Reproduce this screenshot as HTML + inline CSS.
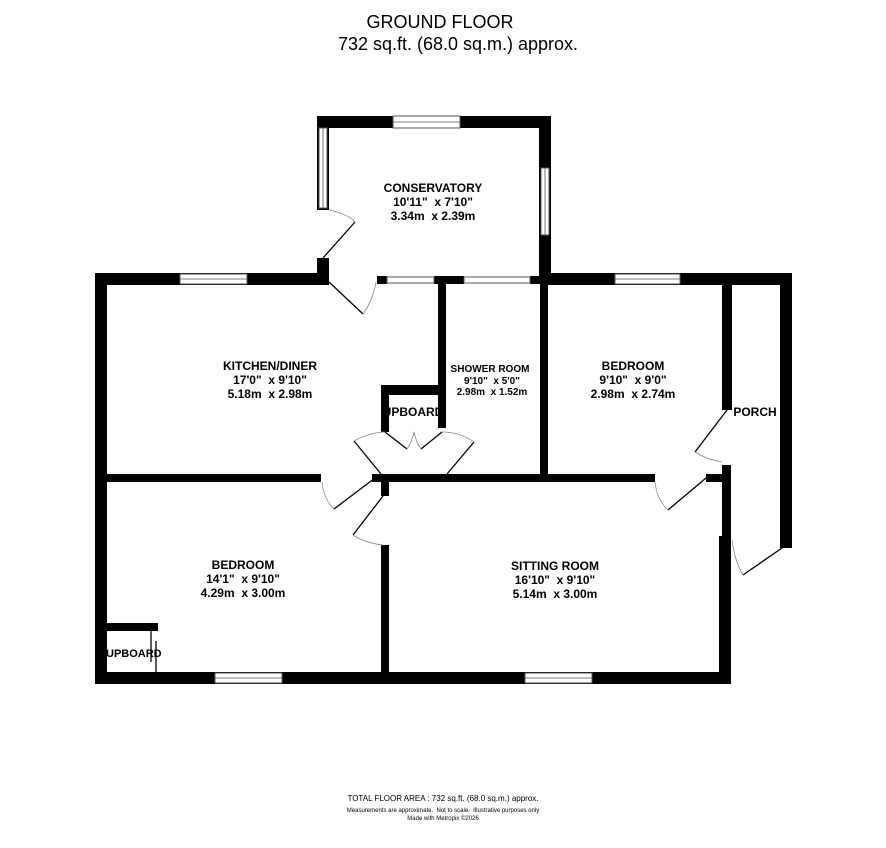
<!DOCTYPE html>
<html><head><meta charset="utf-8"><style>
html,body{margin:0;padding:0;background:#fff;}
svg{display:block;font-family:"Liberation Sans",Arial,sans-serif;}
text{white-space:pre;}
</style></head><body>
<svg width="886" height="848" viewBox="0 0 886 848" xmlns="http://www.w3.org/2000/svg" xml:space="preserve">
<rect width="886" height="848" fill="#fff"/>
<text x="440" y="28" font-size="18" text-anchor="middle">GROUND FLOOR</text>
<text x="458" y="50" font-size="18" text-anchor="middle">732 sq.ft. (68.0 sq.m.) approx.</text>
<g fill="#000">
<rect x="317" y="116" width="234" height="12"/>
<rect x="317" y="116" width="12" height="94"/>
<rect x="539" y="116" width="12" height="160"/>
<rect x="317" y="258" width="12" height="26"/>
<rect x="377" y="276" width="10" height="8"/>
<rect x="434" y="276" width="30" height="8"/>
<rect x="530" y="276" width="20" height="8"/>
<rect x="95" y="273" width="234" height="12"/>
<rect x="540" y="273" width="252" height="12"/>
<rect x="95" y="273" width="12" height="411"/>
<rect x="95" y="672" width="636" height="12"/>
<rect x="780" y="273" width="12" height="275"/>
<rect x="722" y="283" width="10" height="127"/>
<rect x="722" y="465" width="9" height="72"/>
<rect x="719" y="536" width="12" height="148"/>
<rect x="438" y="283" width="8" height="145"/>
<rect x="381" y="385" width="65" height="10"/>
<rect x="381" y="385" width="8" height="47"/>
<rect x="540" y="283" width="8" height="195"/>
<rect x="95" y="474" width="226" height="8"/>
<rect x="372" y="474" width="283" height="8"/>
<rect x="706" y="474" width="20" height="8"/>
<rect x="381" y="474" width="8" height="22"/>
<rect x="381" y="545" width="8" height="130"/>
<rect x="95" y="623" width="63" height="8"/>
</g>
<g fill="#fff" stroke="#555" stroke-width="1">
<rect x="393" y="116" width="67" height="12"/>
<rect x="319" y="128" width="8" height="80"/>
<rect x="541" y="168" width="8" height="67"/>
<rect x="387" y="277" width="47" height="6"/>
<rect x="464" y="277" width="66" height="6"/>
<rect x="180" y="274" width="67" height="10"/>
<rect x="615" y="274" width="65" height="10"/>
<rect x="215" y="673" width="67" height="10"/>
<rect x="525" y="673" width="67" height="10"/>
</g>
<g stroke="#555" stroke-width="0.8">
<line x1="393" y1="122" x2="460" y2="122"/><line x1="323" y1="128" x2="323" y2="208"/>
<line x1="545" y1="168" x2="545" y2="235"/><line x1="180" y1="279" x2="247" y2="279"/>
<line x1="615" y1="279" x2="680" y2="279"/><line x1="215" y1="678" x2="282" y2="678"/>
<line x1="525" y1="678" x2="592" y2="678"/>
</g>
<g stroke="#000" stroke-width="1.3" fill="none">
<line x1="323" y1="258" x2="355" y2="222"/>
<line x1="329" y1="282" x2="363" y2="314"/>
<line x1="385" y1="432" x2="407" y2="449"/><line x1="442" y1="432" x2="421" y2="449"/>
<line x1="354" y1="441" x2="381" y2="474"/><line x1="474" y1="442" x2="447" y2="474"/>
<line x1="375" y1="478" x2="334" y2="509"/>
<line x1="383" y1="496" x2="353" y2="535"/>
<line x1="706" y1="478" x2="668" y2="510"/>
<line x1="727" y1="410" x2="695" y2="452"/>
<line x1="782" y1="548" x2="743" y2="575"/>
<line x1="151" y1="625" x2="151" y2="662"/><line x1="156" y1="641" x2="156" y2="675"/>
</g>
<g stroke="#888" stroke-width="0.8" fill="none">
<path d="M329 210 Q350 215 355 222"/>
<path d="M363 314 Q373 300 376 282"/>
<path d="M354 441 Q370 432 385 432"/><path d="M474 442 Q460 432 442 432"/>
<path d="M407 449 Q412 442 414 432 Q416 442 421 449"/>
<path d="M322 482 Q324 500 334 509"/>
<path d="M353 535 Q365 543 383 545"/>
<path d="M655 482 Q657 500 668 510"/>
<path d="M695 452 Q708 460 722 462"/>
<path d="M732 540 Q735 562 743 575"/>
</g>
<g font-weight="bold" text-anchor="middle" font-size="12">
<text x="433" y="192">CONSERVATORY</text>
<text x="433" y="206">10'11"  x 7'10"</text>
<text x="433" y="220">3.34m  x 2.39m</text>
<text x="270" y="370">KITCHEN/DINER</text>
<text x="270" y="384">17'0"  x 9'10"</text>
<text x="270" y="398">5.18m  x 2.98m</text>
<text x="633" y="370">BEDROOM</text>
<text x="633" y="384">9'10"  x 9'0"</text>
<text x="633" y="398">2.98m  x 2.74m</text>
<text x="243" y="569">BEDROOM</text>
<text x="243" y="583">14'1"  x 9'10"</text>
<text x="243" y="597">4.29m  x 3.00m</text>
<text x="555" y="570">SITTING ROOM</text>
<text x="555" y="584">16'10"  x 9'10"</text>
<text x="555" y="598">5.14m  x 3.00m</text>
<text x="755" y="416">PORCH</text>
<text x="413" y="416">UPBOARD</text>
</g>
<text x="106" y="657" font-weight="bold" font-size="11">UPBOARD</text>
<g font-weight="bold" text-anchor="middle" font-size="10">
<text x="490" y="372">SHOWER ROOM</text>
<text x="492" y="384">9'10"  x 5'0"</text>
<text x="492" y="395">2.98m  x 1.52m</text>
</g>
<text x="443" y="801" font-size="8" text-anchor="middle">TOTAL FLOOR AREA : 732 sq.ft. (68.0 sq.m.) approx.</text>
<text x="443" y="812" font-size="6" text-anchor="middle">Measurements are approximate.  Not to scale.  Illustrative purposes only</text>
<text x="443" y="820" font-size="6" text-anchor="middle">Made with Metropix ©2026</text>
</svg>
</body></html>
